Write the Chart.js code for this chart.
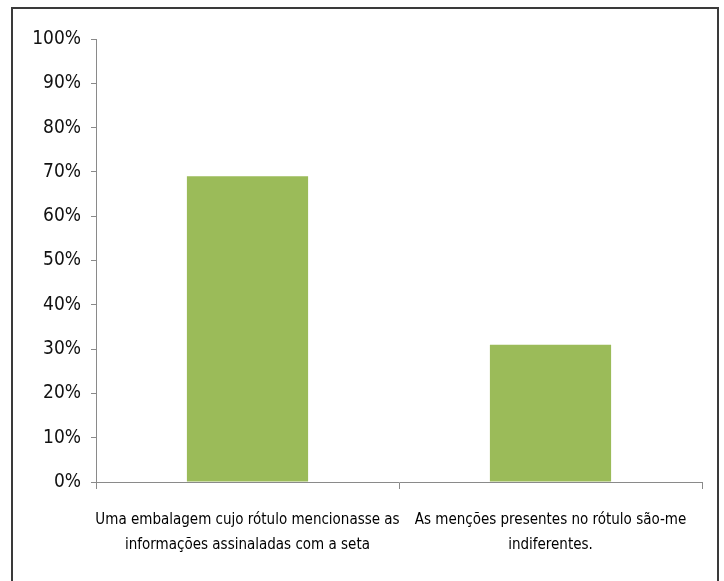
<!DOCTYPE html>
<html>
<head>
<meta charset="utf-8">
<script src="https://cdn.jsdelivr.net/npm/chart.js@4/dist/chart.umd.min.js"></script>
<style>
  html, body { margin: 0; padding: 0; background: #fff; }
  #wrap { position: relative; width: 724px; height: 581px; overflow: hidden; }
  #frame { position: absolute; left: 11px; top: 7px; width: 708px; height: 600px; border: 2px solid #3a3a3a; box-sizing: border-box; }
  canvas { position: absolute; left: 0; top: 0; }
</style>
</head>
<body>
<div id="wrap">
  <div id="frame"></div>
  <canvas id="c" width="724" height="581"></canvas>
</div>
<script>
const categories = [
  ["Uma embalagem cujo rótulo mencionasse as", "informações assinaladas com a seta"],
  ["As menções presentes no rótulo são-me", "indiferentes."]
];
const values = [69, 31];
const yTickMin = 0, yTickMax = 100, yTickStep = 10;

const FONT = "'Liberation Sans Narrow', 'DejaVu Sans Condensed', sans-serif";

new Chart(document.getElementById('c'), {
  type: 'bar',
  data: {
    labels: categories,
    datasets: [{
      data: values,
      backgroundColor: '#9BBB59',
      borderWidth: 0,
      categoryPercentage: 1.0,
      barPercentage: 0.4
    }]
  },
  options: {
    responsive: false,
    animation: false,
    layout: { padding: { left: 0, top: 39, right: 22, bottom: 0 } },
    plugins: { legend: { display: false }, tooltip: { enabled: false } },
    scales: {
      y: {
        min: yTickMin, max: yTickMax,
        ticks: {
          stepSize: yTickStep,
          callback: v => v + '%',
          font: { family: FONT, size: 19 },
          color: '#111',
          padding: 10
        },
        grid: { drawOnChartArea: false, drawTicks: true, tickLength: 5, color: '#8a8a8a' },
        border: { display: true, color: '#8a8a8a', width: 1 },
        afterFit: s => { s.width = 96; }
      },
      x: {
        ticks: {
          font: { family: FONT, size: 15, lineHeight: 1.7 },
          color: '#000',
          padding: 18,
          maxRotation: 0,
          autoSkip: false
        },
        grid: { drawOnChartArea: false, drawTicks: true, tickLength: 7, color: '#8a8a8a', offset: true },
        border: { display: true, color: '#8a8a8a', width: 1 },
        afterFit: s => { s.height = 99; }
      }
    }
  }
});
</script>
</body>
</html>
